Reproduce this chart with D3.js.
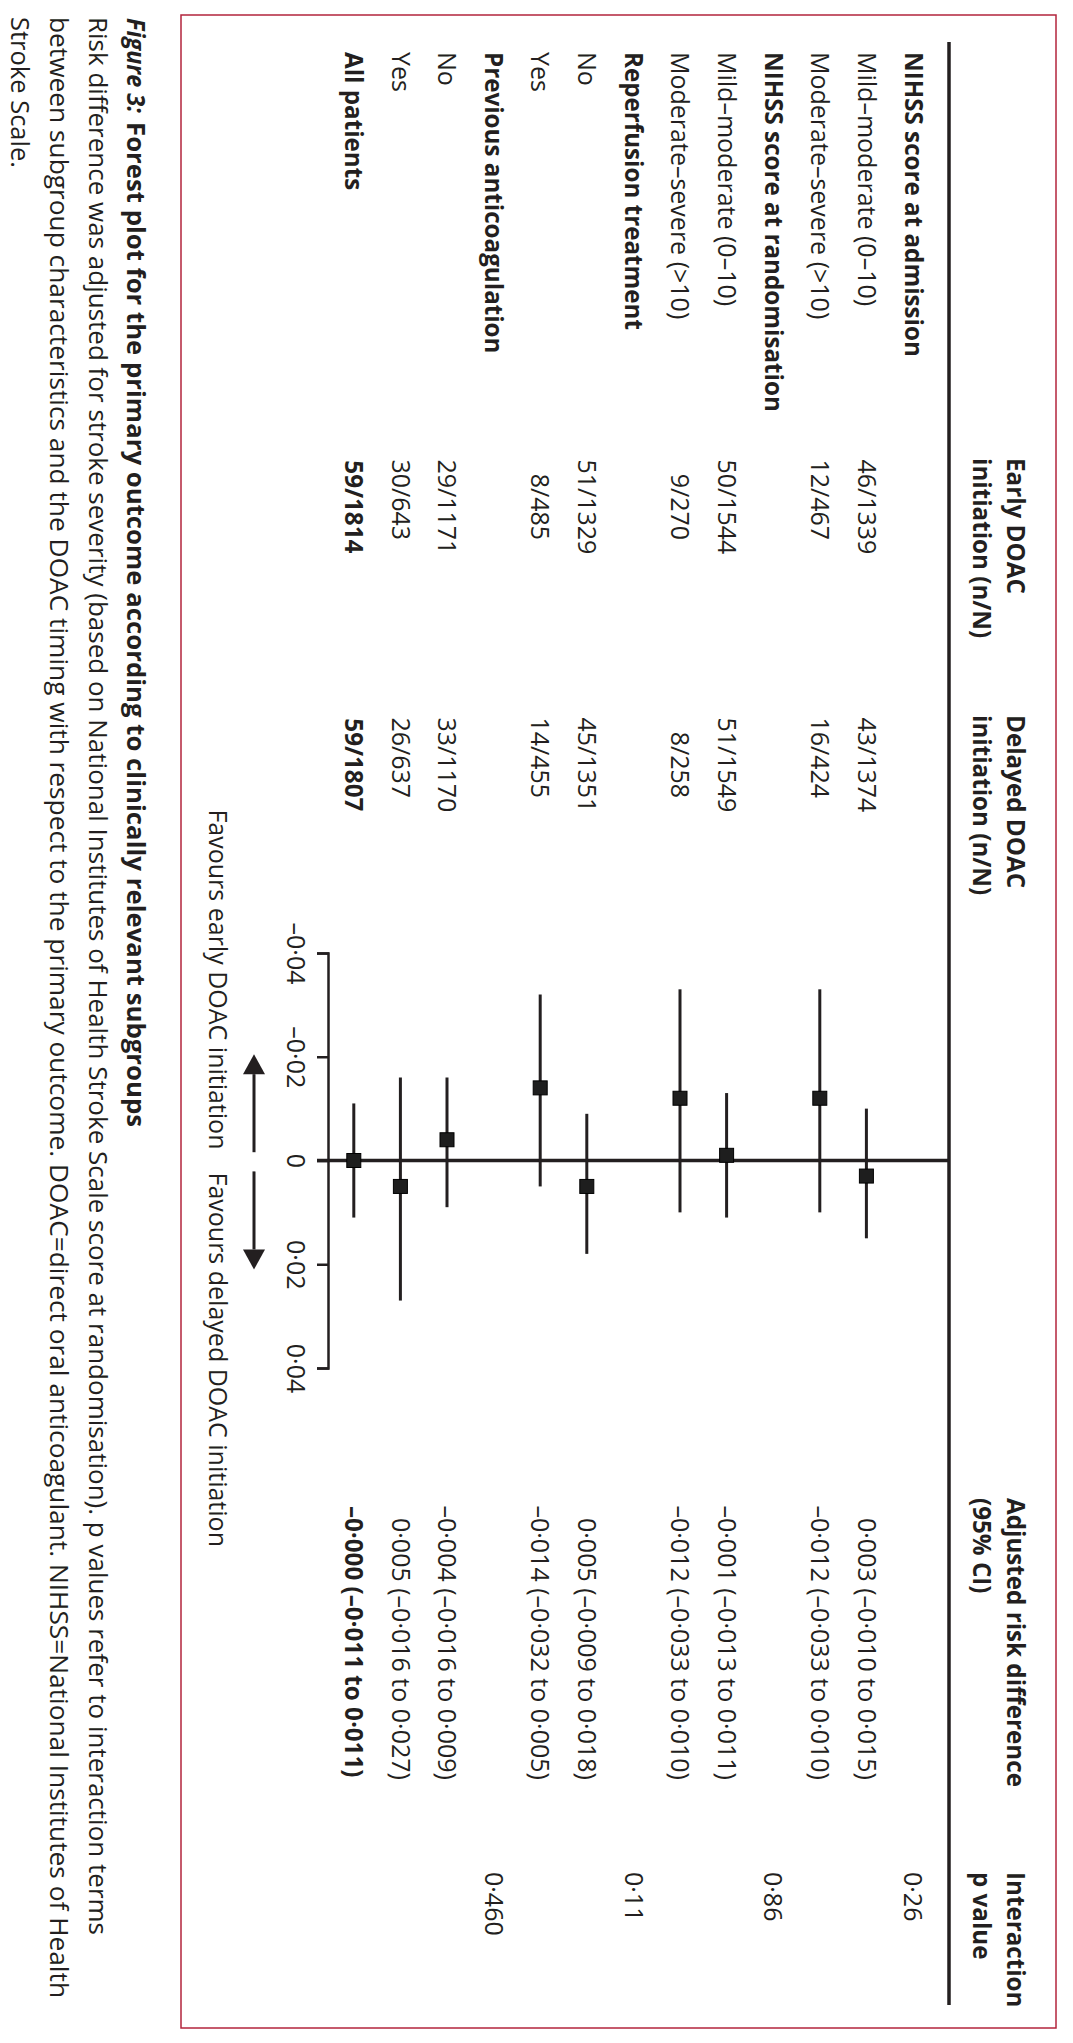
<!DOCTYPE html>
<html><head><meta charset="utf-8">
<script src="https://cdn.jsdelivr.net/npm/d3@7"></script>
<style>
html,body{margin:0;padding:0;background:#fff;}
svg{display:block;}
text{font-family:"Open Sans",sans-serif;fill:#231f20;}
</style></head><body>
<svg id="chart" width="1073" height="2043"></svg>
<script>
// ---------------- data ----------------
const rowLabels = [
  "NIHSS score at admission", "Mild–moderate (0–10)", "Moderate–severe (>10)",
  "NIHSS score at randomisation", "Mild–moderate (0–10)", "Moderate–severe (>10)",
  "Reperfusion treatment", "No", "Yes",
  "Previous anticoagulation", "No", "Yes",
  "All patients"
];
const rowTypes = ["group","sub","sub","group","sub","sub","group","sub","sub","group","sub","sub","total"];
const earlyN   = ["", "46/1339", "12/467", "", "50/1544", "9/270", "", "51/1329", "8/485", "", "29/1171", "30/643", "59/1814"];
const delayedN = ["", "43/1374", "16/424", "", "51/1549", "8/258", "", "45/1351", "14/455", "", "33/1170", "26/637", "59/1807"];
const estimate = [null, 0.003, -0.012, null, -0.001, -0.012, null, 0.005, -0.014, null, -0.004, 0.005, -0.000];
const lower    = [null, -0.010, -0.033, null, -0.013, -0.033, null, -0.009, -0.032, null, -0.016, -0.016, -0.011];
const upper    = [null, 0.015, 0.010, null, 0.011, 0.010, null, 0.018, 0.005, null, 0.009, 0.027, 0.011];
const pValues  = ["0·26", "", "", "0·86", "", "", "0·11", "", "", "0·460", "", "", ""];
const tickValues = [-0.04, -0.02, 0, 0.02, 0.04];
const headers = {
  early: ["Early DOAC", "initiation (n/N)"],
  delayed: ["Delayed DOAC", "initiation (n/N)"],
  rd: ["Adjusted risk difference", "(95% CI)"],
  p: ["Interaction", "p value"]
};
const favours = ["Favours early DOAC initiation", "Favours delayed DOAC initiation"];
const captionTitle = ["Figure 3:", "Forest plot for the primary outcome according to clinically relevant subgroups"];
const captionLines = [
  "Risk difference was adjusted for stroke severity (based on National Institutes of Health Stroke Scale score at randomisation). p values refer to interaction terms",
  "between subgroup characteristics and the DOAC timing with respect to the primary outcome. DOAC=direct oral anticoagulant. NIHSS=National Institutes of Health",
  "Stroke Scale."
];

// ---------------- layout ----------------
const W = 1073;
const FS = 25;     // regular text
const FSB = 24.2;  // bold text
const INK = "#231f20";
const svg = d3.select("#chart");

svg.append("rect")
  .attr("x", 181).attr("y", 15).attr("width", 875).attr("height", 2013)
  .attr("fill", "none").attr("stroke", "#b3243c").attr("stroke-width", 1.5);

// the figure is drawn in an unrotated frame and turned 90° clockwise
const g = svg.append("g").attr("transform", `translate(${W},0) rotate(90)`);

const rowV = i => 160 + i * 46.6;
const x = d3.scaleLinear().domain([-0.04, 0.04]).range([953, 1368]);

const signOf = v => (v < 0 || Object.is(v, -0)) ? "–" : "";
const f3 = v => Math.abs(v).toFixed(3).replace(".", "·");
const fmtV = v => signOf(v) + f3(v);
const tickFmt = d => d === 0 ? "0" : (d < 0 ? "–" : "") + Math.abs(d).toFixed(2).replace(".", "·");

function txt(sel, s, u, v, opts = {}) {
  const fw = opts.fw || 400;
  const t = sel.append("text").attr("x", u).attr("y", v).attr("dy", "0.35em")
    .attr("font-size", opts.fs || (fw >= 700 ? FSB : FS)).attr("font-weight", fw)
    .attr("text-anchor", opts.anchor || "start").text(s);
  if (opts.italic) t.attr("font-style", "italic");
  if (opts.len) t.attr("textLength", opts.len).attr("lengthAdjust", "spacingAndGlyphs");
  return t;
}

// headers
const hv = [58, 92];
[["early", 458], ["delayed", 715], ["rd", 1498], ["p", 1872]].forEach(([k, u]) => {
  headers[k].forEach((s, j) => txt(g, s, u, hv[j], {fw: 700}));
});

// separator line
g.append("line").attr("x1", 42).attr("x2", 2005).attr("y1", 124).attr("y2", 124)
  .attr("stroke", INK).attr("stroke-width", 3.5);

// row labels
rowLabels.forEach((s, i) => txt(g, s, 52, rowV(i), {fw: rowTypes[i] === "sub" ? 400 : 700}));

// n/N columns, aligned on the slash
function nCol(arr, slashU) {
  arr.forEach((s, i) => {
    if (!s) return;
    const [a, b] = s.split("/");
    const fw = rowTypes[i] === "total" ? 700 : 400;
    txt(g, a, slashU, rowV(i), {fw, anchor: "end"});
    txt(g, "/" + b, slashU, rowV(i), {fw});
  });
}
nCol(earlyN, 488);
nCol(delayedN, 746);

// risk difference text
estimate.forEach((e, i) => {
  if (e === null) return;
  const fw = rowTypes[i] === "total" ? 700 : 400;
  const rest = f3(e) + " (" + fmtV(lower[i]) + " to " + fmtV(upper[i]) + ")";
  if (signOf(e)) txt(g, signOf(e), 1518, rowV(i), {fw, anchor: "end"});
  txt(g, rest, 1518, rowV(i), {fw});
});

// p values
pValues.forEach((p, i) => { if (p) txt(g, p, 1872, rowV(i)); });

// axis
const axisV = 744;
const axis = d3.axisBottom(x).tickValues(tickValues).tickFormat(tickFmt)
  .tickSize(12).tickSizeOuter(12).tickPadding(12);
const ag = g.append("g").attr("transform", `translate(0,${axisV})`).call(axis);
ag.select(".domain").attr("stroke", INK).attr("stroke-width", 2.5);
ag.selectAll(".tick line").attr("stroke", INK).attr("stroke-width", 2.5);
ag.selectAll(".tick text").attr("font-size", FS).attr("font-family", '"Open Sans",sans-serif').attr("fill", INK);

// zero line
g.append("line").attr("x1", x(0)).attr("x2", x(0)).attr("y1", 124).attr("y2", axisV + 12)
  .attr("stroke", INK).attr("stroke-width", 3.5);

// CIs and markers
const idx = d3.range(estimate.length).filter(i => estimate[i] !== null);
g.selectAll("line.ci").data(idx).join("line").attr("class", "ci")
  .attr("x1", i => x(lower[i])).attr("x2", i => x(upper[i]))
  .attr("y1", i => rowV(i)).attr("y2", i => rowV(i))
  .attr("stroke", INK).attr("stroke-width", 3);
const MS = 14;
g.selectAll("rect.est").data(idx).join("rect").attr("class", "est")
  .attr("x", i => x(estimate[i]) - MS / 2).attr("y", i => rowV(i) - MS / 2)
  .attr("width", MS).attr("height", MS)
  .attr("fill", "#1e1e1e").attr("stroke", "#000").attr("stroke-width", 1);

// direction arrows
const arrowV = 819;
function arrow(fromVal, tipVal) {
  const u0 = x(fromVal), u1 = x(tipVal);
  const dir = Math.sign(u1 - u0);
  const base = u1 - dir * 20;
  g.append("line").attr("x1", u0).attr("x2", base).attr("y1", arrowV).attr("y2", arrowV)
    .attr("stroke", INK).attr("stroke-width", 3);
  g.append("path").attr("d", `M${u1},${arrowV}L${base},${arrowV - 11}L${base},${arrowV + 11}Z`).attr("fill", INK);
}
arrow(-0.0016, -0.0205);
arrow(0.0021, 0.0210);
txt(g, favours[0], x(0) - 11, 855, {anchor: "end"});
txt(g, favours[1], x(0) + 12, 855);

// caption
const capV = i => 937 + i * 38.6;
txt(g, captionTitle[0], 18, capV(0), {fw: 700, italic: true, fs: 25, len: 95});
txt(g, captionTitle[1], 122, capV(0), {fw: 700, fs: 25, len: 1005});
const capLens = [1918, 1981, 151];
captionLines.forEach((s, j) => txt(g, s, 17, capV(j + 1), {fs: 25, len: capLens[j]}));
</script>
</body></html>
